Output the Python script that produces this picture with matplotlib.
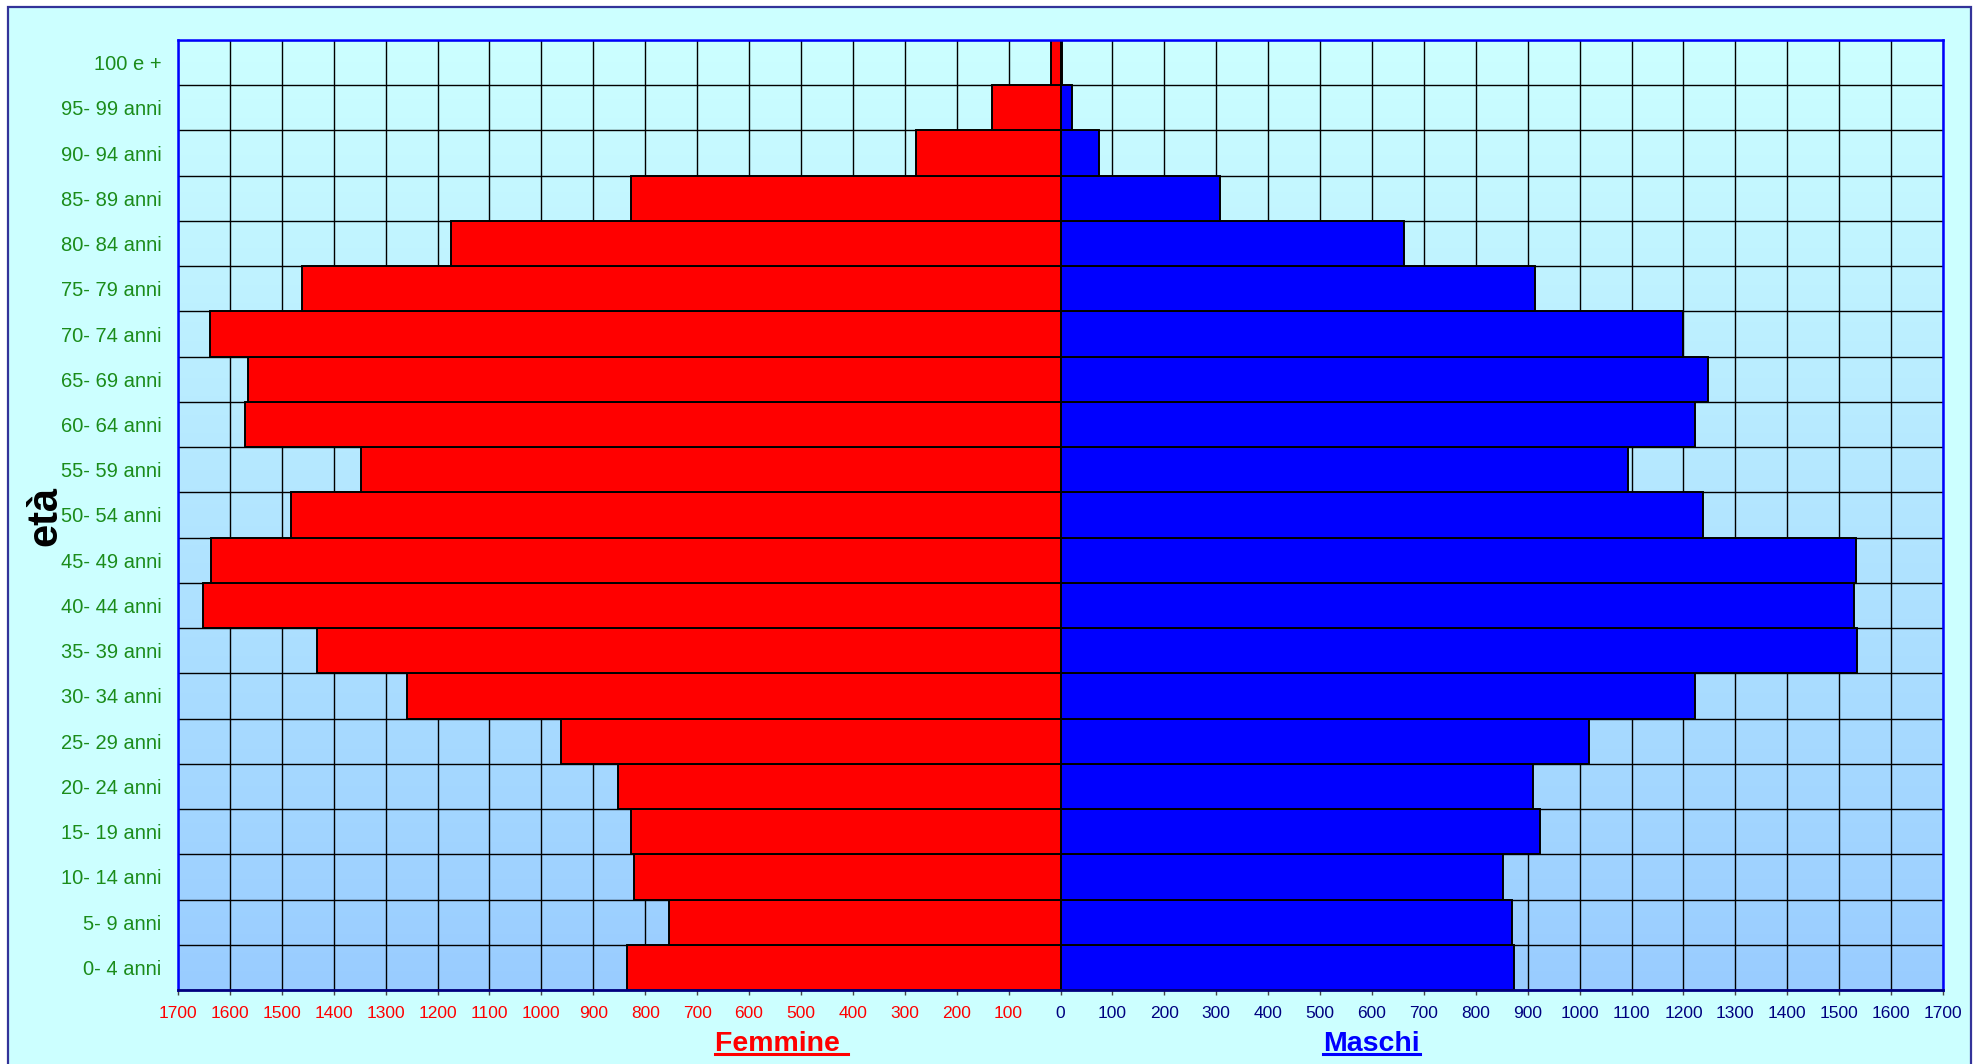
import numpy as np
import matplotlib
matplotlib.use("Agg")
import matplotlib.pyplot as plt
from matplotlib import font_manager
from matplotlib.patches import Rectangle
from matplotlib.lines import Line2D

# ---------------- data ----------------
age_groups = ["0- 4 anni", "5- 9 anni", "10- 14 anni", "15- 19 anni", "20- 24 anni",
              "25- 29 anni", "30- 34 anni", "35- 39 anni", "40- 44 anni", "45- 49 anni",
              "50- 54 anni", "55- 59 anni", "60- 64 anni", "65- 69 anni", "70- 74 anni",
              "75- 79 anni", "80- 84 anni", "85- 89 anni", "90- 94 anni", "95- 99 anni",
              "100 e +"]
femmine = [836, 754, 822, 828, 853, 962, 1259, 1432, 1651, 1636, 1483, 1347,
           1570, 1565, 1638, 1461, 1174, 828, 279, 132, 18]
maschi = [874, 869, 853, 923, 910, 1018, 1222, 1535, 1528, 1533, 1238, 1093,
          1222, 1247, 1199, 914, 661, 308, 74, 23, 3]
x_ticks = list(range(-1700, 1701, 100))
x_tick_labels = [str(abs(v)) for v in x_ticks]

# ---------------- fonts ----------------
avail = {f.name for f in font_manager.fontManager.ttflist}
base_font = "Liberation Sans" if "Liberation Sans" in avail else "DejaVu Sans"
narrow_font = "Liberation Sans Narrow" if "Liberation Sans Narrow" in avail else base_font
plt.rcParams["font.family"] = [base_font, "DejaVu Sans"]

W, H = 1980, 1064
fig = plt.figure(figsize=(W / 100, H / 100), dpi=100, facecolor="white")

# outer frame
fig.patches.append(Rectangle((8 / W, 1 - 1070 / H), (1971 - 8) / W, (1070 - 7) / H,
                             transform=fig.transFigure, facecolor="#CCFFFF",
                             edgecolor="#333399", linewidth=1.6, zorder=-10))

ax = fig.add_axes([178 / W, 1 - 990 / H, (1943 - 178) / W, (990 - 40) / H])
ax.set_zorder(1)
ax.set_facecolor("none")

# gradient background in plot area
grad = np.linspace(0, 1, 256).reshape(-1, 1)
top = np.array([0xCC, 0xFF, 0xFF]) / 255
bot = np.array([0x99, 0xCC, 0xFF]) / 255
img = top[None, None, :] * (1 - grad[:, :, None]) + bot[None, None, :] * grad[:, :, None]
ax.imshow(img, extent=[0, 1, 0, 1], transform=ax.transAxes, aspect="auto", zorder=0)

y = np.arange(len(age_groups))
ax.barh(y, [-v for v in femmine], height=1.0, color="#FF0000", edgecolor="black",
        linewidth=1.4, zorder=3)
ax.barh(y, maschi, height=1.0, color="#0000FF", edgecolor="black",
        linewidth=1.4, zorder=3)

ax.set_xlim(-1700, 1700)
ax.set_ylim(-0.5, len(age_groups) - 0.5)

ax.set_xticks(x_ticks)
ax.set_xticklabels(x_tick_labels, fontfamily=narrow_font, fontsize=12.5)
for v, lab in zip(x_ticks, ax.get_xticklabels()):
    lab.set_color("#FF0000" if v < 0 else "#000080")
ax.tick_params(axis="x", length=3.5, width=1, color="#444444", pad=8)

ax.set_yticks(y)
ax.set_yticklabels(age_groups, fontsize=14.5, color="#1B8C1B")
ax.tick_params(axis="y", length=0, pad=12)
ax.set_yticks(np.arange(-0.5, len(age_groups), 1.0), minor=True)
ax.tick_params(axis="y", which="minor", length=0)

ax.grid(True, axis="x", which="major", color="black", linewidth=1.0, zorder=1)
ax.grid(True, axis="y", which="minor", color="black", linewidth=1.0, zorder=1)
ax.grid(False, axis="y", which="major")
ax.set_axisbelow(True)

for s in ["left", "top", "right"]:
    ax.spines[s].set_color("#0000FF")
    ax.spines[s].set_linewidth(1.8)
ax.spines["bottom"].set_color("#000080")
ax.spines["bottom"].set_linewidth(2.0)
for s in ax.spines.values():
    s.set_zorder(5)

fig.text(45 / W, 1 - 516 / H, "età", rotation=90, ha="center", va="center",
         fontsize=30, fontweight="bold", color="black", zorder=5)

t_f = fig.text(715 / W, 1 - 1051 / H, "Femmine ", ha="left", va="baseline",
               fontsize=20.5, fontweight="bold", color="#FF0000", zorder=5)
t_m = fig.text(1323 / W, 1 - 1051 / H, "Maschi", ha="left", va="baseline",
               fontsize=20.5, fontweight="bold", color="#0000FF", zorder=5)

fig.canvas.draw()
r = fig.canvas.get_renderer()
for t, c in [(t_f, "#FF0000"), (t_m, "#0000FF")]:
    bb = t.get_window_extent(renderer=r)
    yy = (H - 1054) / H
    fig.lines.append(Line2D([bb.x0 / W, bb.x1 / W], [yy, yy], transform=fig.transFigure,
                            color=c, linewidth=2.2, zorder=5))

fig.savefig("out.png", dpi=100, facecolor="white")
